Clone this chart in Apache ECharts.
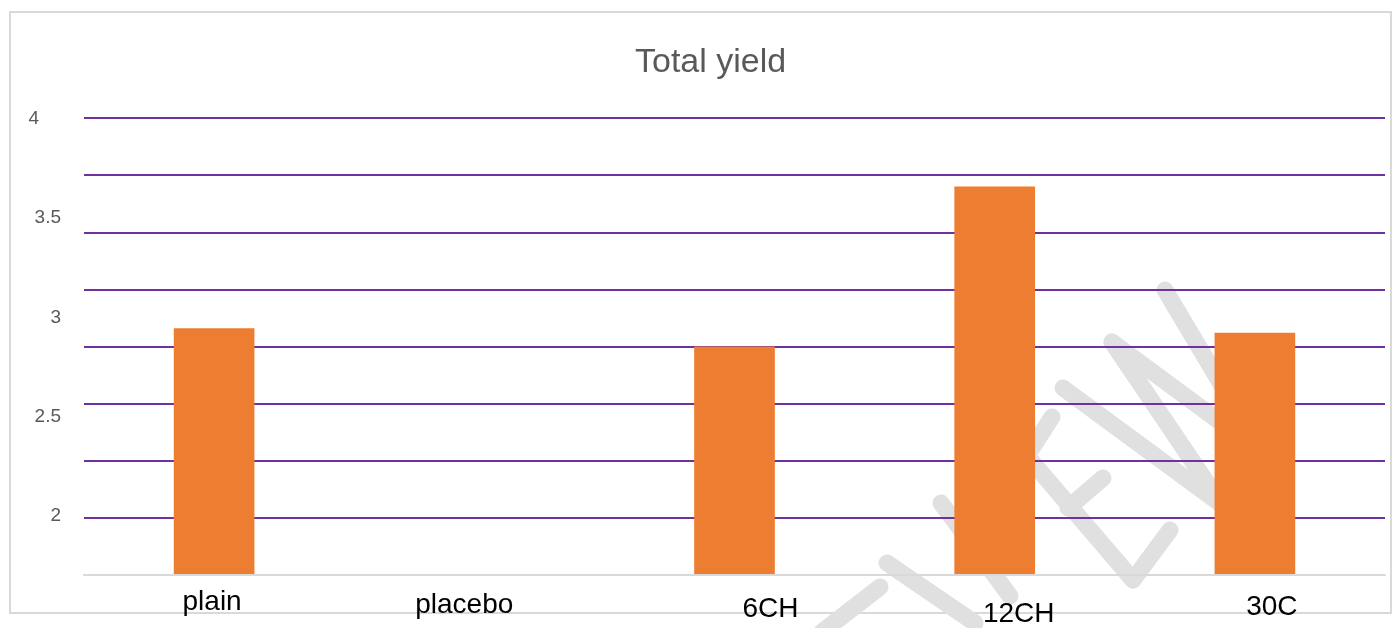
<!DOCTYPE html>
<html>
<head>
<meta charset="utf-8">
<script src="https://cdn.jsdelivr.net/npm/echarts@6/dist/echarts.min.js"></script>
<style>
  html, body { margin: 0; padding: 0; background: #fff; }
  #chart { width: 1395px; height: 628px; }
</style>
</head>
<body>
<div id="chart"></div>
<script>
const categories = ['plain', 'placebo', '6CH', '12CH', '30C'];
const yieldValues = [3.08, null, 3.0, 3.7, 3.06];
const tickLabels = [2, 2.5, 3, 3.5, 4];
const titleText = 'Total yield';

// label placement tweaks (style only)
const labelShift = [[-2, 0], [-10, 3], [36, 7], [24, 12], [17, 5]];

// decorative background watermark strokes (not data)
const watermarkStrokes = [
  [[887, 563], [975, 623]],
  [[880, 587], [822, 632]],
  [[941, 503], [1010, 596]],
  [[1027, 456], [1133, 580]],
  [[1027, 456], [1052, 417]],
  [[1068, 508], [1103, 478]],
  [[1133, 580], [1170, 530]],
  [[1063, 388], [1222, 505]],
  [[1112, 342], [1222, 505]],
  [[1112, 342], [1262, 453]],
  [[1165, 290], [1262, 453]]
];

const chart = echarts.init(document.getElementById('chart'));
const font = "'Liberation Sans', Arial, sans-serif";

const xData = categories.map((c, i) => {
  const dx = labelShift[i][0], dy = labelShift[i][1];
  return {
    value: c,
    textStyle: {
      padding: [dy, dx < 0 ? -2 * dx : 0, 0, dx > 0 ? 2 * dx : 0]
    }
  };
});

const graphics = [{
  type: 'rect',
  z: -10,
  shape: { x: 10, y: 12, width: 1381, height: 601 },
  style: { fill: 'none', stroke: '#D9D9D9', lineWidth: 2 }
}].concat(watermarkStrokes.map(pts => ({
  type: 'polyline',
  z: -5,
  shape: { points: pts },
  style: { stroke: '#E0E0E0', lineWidth: 17, lineCap: 'round', lineJoin: 'round', fill: null }
})));

const option = {
  animation: false,
  backgroundColor: '#fff',
  title: {
    text: titleText,
    left: 630,
    top: 41,
    textStyle: { fontFamily: font, fontSize: 34, fontWeight: 'normal', color: '#595959' }
  },
  graphic: graphics,
  grid: [
    { left: 84, right: 10, top: 118, height: 461 },
    { left: 84, right: 10, top: 119, height: 496 }
  ],
  xAxis: [
    {
      type: 'category', gridIndex: 0, data: xData, z: 6,
      axisLine: { lineStyle: { color: '#D9D9D9', width: 2 } },
      axisTick: { show: false },
      axisLabel: { fontFamily: font, fontSize: 28, color: '#000', margin: 13 }
    },
    {
      type: 'category', gridIndex: 1, data: categories, show: false
    }
  ],
  yAxis: [
    {
      type: 'value', gridIndex: 0, min: 2, max: 4, interval: 0.25, z: 3,
      axisLabel: { show: false },
      axisLine: { show: false },
      axisTick: { show: false },
      splitLine: { lineStyle: { color: '#7030A0', width: 2 } }
    },
    {
      type: 'value', gridIndex: 1, min: 1.5, max: 4, interval: 0.5,
      axisLine: { show: false },
      axisTick: { show: false },
      splitLine: { show: false },
      axisLabel: {
        fontFamily: font, fontSize: 19, color: '#595959', margin: 23,
        formatter: v => {
          if (tickLabels.indexOf(v) < 0) return '';
          return v === 4 ? '{s|' + v + '}' : String(v);
        },
        rich: {
          s: { fontFamily: font, fontSize: 19, color: '#595959', padding: [0, 22, 0, 0] }
        }
      }
    }
  ],
  series: [{
    type: 'bar',
    xAxisIndex: 0, yAxisIndex: 0,
    data: yieldValues,
    barWidth: '31%',
    itemStyle: { color: '#ED7D31' },
    z: 5
  }]
};
chart.setOption(option);
</script>
</body>
</html>
